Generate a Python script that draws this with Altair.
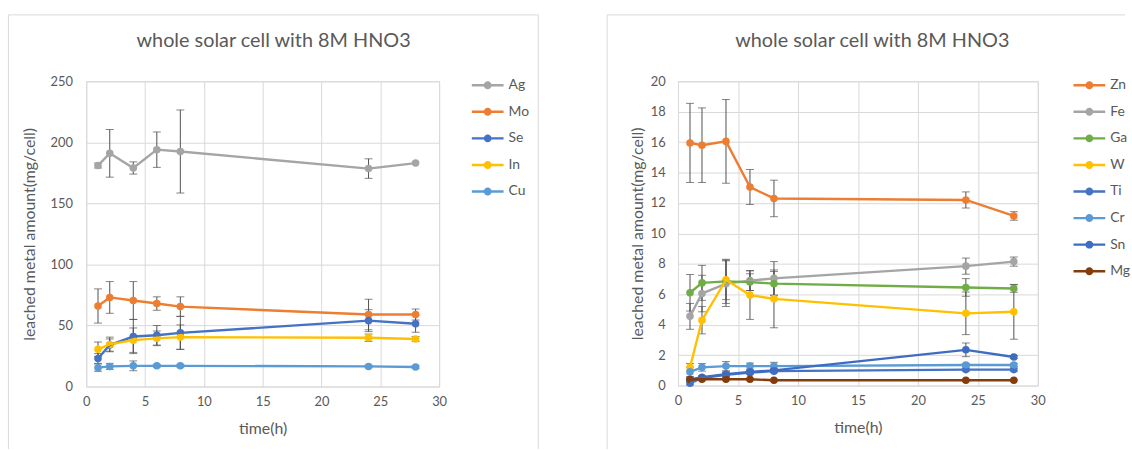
import altair as alt
import pandas as pd

hours = [1, 2, 4, 6, 8, 24, 28]
chart_title = "whole solar cell with 8M HNO3"
x_title = "time(h)"
y_title = "leached metal amount(mg/cell)"

# ---- left panel ----
left_metals = ["Ag", "Mo", "Se", "In", "Cu"]
left_colors = ["#A5A5A5", "#ED7D31", "#4472C4", "#FFC000", "#5B9BD5"]
Ag = [181, 191, 179, 194, 192.5, 178.5, 183]
Ag_err = [2, 19.5, 5, 14.5, 34, 8, 0]
Mo = [66, 73, 70.5, 68, 65.5, 59, 59]
Mo_err = [14, 13, 15.5, 5.5, 8, 12.5, 4.5]
Se = [23, 34, 41, 42, 44, 54, 51.5]
Se_err = [4, 5, 14, 8, 13.5, 9, 7]
In = [30.5, 34.5, 38, 39.5, 40.5, 40, 39]
In_err = [6, 6, 10, 6, 10, 3, 2]
Cu = [15.5, 16.5, 17, 17, 17, 16.5, 16]
Cu_err = [3, 2.5, 4, 1, 1, 1, 1]

# ---- right panel ----
right_metals = ["Zn", "Fe", "Ga", "W", "Ti", "Cr", "Sn", "Mg"]
right_colors = ["#ED7D31", "#A5A5A5", "#70AD47", "#FFC000", "#4472C4", "#5B9BD5", "#3E6CC0", "#843C0C"]
Zn = [15.95, 15.8, 16.05, 13.05, 12.3, 12.2, 11.15]
Zn_err = [2.6, 2.45, 2.75, 1.15, 1.2, 0.53, 0.28]
Fe = [4.55, 6.05, 6.7, 6.9, 7.05, 7.85, 8.15]
Fe_err = [0.85, 1.2, 1.5, 0.65, 1.1, 0.53, 0.3]
Ga = [6.1, 6.75, 6.85, 6.8, 6.7, 6.45, 6.38]
Ga_err = [1.2, 1.15, 1.45, 0.55, 0.8, 0.58, 0.25]
W = [1.2, 4.3, 6.95, 5.95, 5.7, 4.75, 4.85]
W_err = [0.25, 0.9, 1.3, 1.6, 1.9, 1.4, 1.8]
Ti = [0.15, 0.5, 0.7, 0.85, 0.95, 1.05, 1.05]
Ti_err = [0.1, 0.1, 0.15, 0.1, 0.1, 0.1, 0.1]
Cr = [0.9, 1.2, 1.28, 1.28, 1.28, 1.35, 1.35]
Cr_err = [0.3, 0.25, 0.3, 0.2, 0.25, 0.1, 0.1]
Sn = [0.4, 0.55, 0.75, 0.9, 1.0, 2.35, 1.88]
Sn_err = [0.1, 0.1, 0.15, 0.1, 0.1, 0.45, 0.1]
Mg = [0.4, 0.42, 0.42, 0.42, 0.35, 0.35, 0.35]
Mg_err = [0.05, 0.05, 0.05, 0.05, 0.05, 0.05, 0.05]

FONT = "Lato"
TXT = "#595959"
GRID = "#D9D9D9"
BAR = "#505050"

# legend symbol: short line with a dot in the middle (filled shapes only)
LEG_PATH = ("M-4.0,-0.3H4.0V0.3H-4.0Z "
            "M1,0A1,1,0,1,1,-1,0A1,1,0,1,1,1,0Z")


def long_df(metals, values, errors):
    rows = []
    for i, m in enumerate(metals):
        for h, v, e in zip(hours, values[i], errors[i]):
            rows.append({"metal": m, "time": h, "value": v,
                         "lo": v - e, "hi": v + e, "err": e, "order": i})
    return pd.DataFrame(rows)


def panel(df, metals, colors, ymax, ystep, w, h, frame, title_cx,
          ytitle_x, ylab_pad, legend_x, legend_y):
    fl, fr, ft, fb, right_border = frame
    xs = alt.Scale(domain=[0, 30], nice=False)
    ys = alt.Scale(domain=[0, ymax], nice=False)
    xaxis = alt.Axis(values=list(range(0, 31, 5)), title=x_title,
                     titleY=42, titleBaseline="middle", labelPadding=9,
                     labelFlush=False)
    yaxis = alt.Axis(values=[ystep * k for k in range(int(ymax / ystep) + 1)],
                     title=y_title, titleX=ytitle_x, titleY=h / 2,
                     titleBaseline="middle", labelPadding=ylab_pad)

    def X(f):
        return alt.X(f"{f}:Q", scale=xs, axis=xaxis)

    def Y(f):
        return alt.Y(f"{f}:Q", scale=ys, axis=yaxis)

    cscale = alt.Scale(domain=metals, range=colors)
    legend = alt.Legend(
        title=None, orient="none", legendX=legend_x, legendY=legend_y,
        symbolType=LEG_PATH, symbolSize=64, symbolStrokeWidth=0,
        symbolOpacity=1, labelFont=FONT, labelFontSize=14, labelColor=TXT,
        labelOffset=14, rowPadding=12.8, padding=0)
    color = alt.Color("metal:N", scale=cscale, sort=metals, legend=legend)

    base = alt.Chart(df)
    errs = base.transform_filter("datum.err > 0")

    bars = errs.mark_rule(color=BAR, strokeWidth=1).encode(
        x=X("time"), y=Y("lo"), y2="hi:Q")
    cap_lo = errs.mark_tick(orient="horizontal", size=8, thickness=1,
                            color=BAR).encode(x=X("time"), y=Y("lo"))
    cap_hi = errs.mark_tick(orient="horizontal", size=8, thickness=1,
                            color=BAR).encode(x=X("time"), y=Y("hi"))
    points = base.mark_point(filled=True, size=58, opacity=1).encode(
        x=X("time"), y=Y("value"), color=color)
    lines = base.mark_line(strokeWidth=2.4).encode(
        x=X("time"), y=Y("value"), color=color,
        detail="metal:N", order="time:Q")

    one = alt.Data(values=[{"t": chart_title}])
    title = alt.Chart(one).mark_text(font=FONT, fontSize=20, color=TXT,
                                     baseline="middle", align="center").encode(
        text="t:N", x=alt.value(title_cx), y=alt.value(-41))
    fr_style = dict(color=GRID, strokeWidth=1)
    f_top = alt.Chart(one).mark_rule(**fr_style).encode(
        x=alt.value(fl), x2=alt.value(fr), y=alt.value(ft))
    f_left = alt.Chart(one).mark_rule(**fr_style).encode(
        x=alt.value(fl), y=alt.value(ft), y2=alt.value(fb))
    layers = [f_top, f_left]
    if right_border:
        layers.append(alt.Chart(one).mark_rule(**fr_style).encode(
            x=alt.value(fr), y=alt.value(ft), y2=alt.value(fb)))
    layers += [bars, cap_lo, cap_hi, points, lines, title]
    return alt.layer(*layers).properties(width=w, height=h)


left_df = long_df(left_metals, [Ag, Mo, Se, In, Cu],
                  [Ag_err, Mo_err, Se_err, In_err, Cu_err])
right_df = long_df(right_metals, [Zn, Fe, Ga, W, Ti, Cr, Sn, Mg],
                   [Zn_err, Fe_err, Ga_err, W_err, Ti_err, Cr_err, Sn_err, Mg_err])

left = panel(left_df, left_metals, left_colors, 250, 50, 356, 308,
             (-78.5, 456, -67, 371, True), 189, -57.4, 14, 398, -3)
right = panel(right_df, right_metals, right_colors, 20, 2, 363, 307,
              (-71.5, 451, -67, 371, False), 196, -40.7, 13, 408, -3)

chart = alt.hconcat(left, right, spacing=67).resolve_scale(
    color="independent", x="independent", y="independent"
).resolve_legend(color="independent").properties(
    padding={"left": 7, "top": 12, "right": 0, "bottom": 0}
).configure(background="white").configure_view(stroke=GRID).configure_axis(
    domain=False, ticks=False, grid=True, gridColor=GRID, gridWidth=1,
    labelFont=FONT, labelFontSize=13, labelColor=TXT,
    titleFont=FONT, titleFontSize=16, titleFontWeight="normal", titleColor=TXT
)

chart.save("out.html", embed_options={"renderer": "svg", "actions": False})
